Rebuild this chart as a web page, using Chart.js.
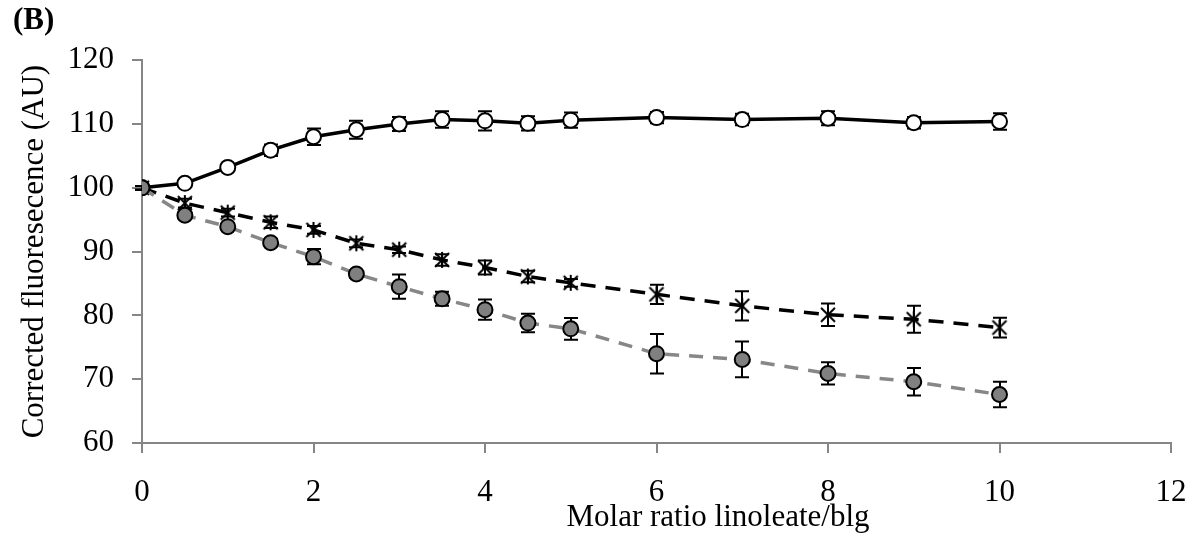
<!DOCTYPE html>
<html>
<head>
<meta charset="utf-8">
<script src="https://cdn.jsdelivr.net/npm/chart.js@4.4.1/dist/chart.umd.min.js"></script>
<style>
html,body{margin:0;padding:0;background:#fff;}
#wrap{width:1197px;height:541px;position:relative;}
</style>
</head>
<body>
<div id="wrap"><canvas id="c" width="1197" height="541"></canvas></div>
<script>
const ratios = [0,0.5,1,1.5,2,2.5,3,3.5,4,4.5,5,6,7,8,9,10];
const openVals = [100,100.7,103.2,105.9,108.0,109.1,110.0,110.7,110.5,110.1,110.6,111.0,110.7,110.9,110.2,110.4];
const openErr  = [0.3,0.4,0.5,0.9,1.3,1.4,1.1,1.3,1.5,1.1,1.2,0.9,0.9,1.1,0.9,1.3];
const starVals = [100,97.6,96.1,94.6,93.4,91.3,90.3,88.7,87.5,86.1,85.1,83.3,81.5,80.1,79.4,78.1];
const starErr  = [0.3,0.7,0.6,0.9,0.6,0.6,0.5,0.9,1.1,0.9,0.6,1.5,2.3,1.75,2.1,1.55];
const grayVals = [100,95.7,93.9,91.4,89.2,86.5,84.5,82.6,80.9,78.8,77.9,74.0,73.1,70.9,69.6,67.6];
const grayErr  = [0.3,0.5,0.5,0.6,1.2,0.6,1.9,1.1,1.6,1.45,1.7,3.1,2.8,1.75,2.15,2.0];
const xTicks = [0,2,4,6,8,10,12];
const yTicks = [60,70,80,90,100,110,120];
const xTitle = 'Molar ratio linoleate/blg';

const FONT = "'Liberation Serif','Times New Roman',serif";

function pts(vals){ return ratios.map((r,i)=>({x:r,y:vals[i]})); }

// custom asterisk marker (X + vertical bar)
const star = document.createElement('canvas');
star.width = 18; star.height = 18;
(function(){
  const g = star.getContext('2d');
  g.strokeStyle = '#000'; g.lineWidth = 2; g.lineCap='butt';
  g.beginPath();
  g.moveTo(2,2); g.lineTo(16,16);
  g.moveTo(16,2); g.lineTo(2,16);
  g.moveTo(9,1); g.lineTo(9,17);
  g.stroke();
})();

const errorBars = {
  id:'errorBars',
  beforeDatasetsDraw(chart){
    const ctx = chart.ctx, xs = chart.scales.x, ys = chart.scales.y;
    ctx.save();
    ctx.strokeStyle = '#000'; ctx.lineWidth = 2;
    chart.data.datasets.forEach(ds=>{
      ds.data.forEach((p,i)=>{
        const e = ds.errors[i];
        const px = Math.round(xs.getPixelForValue(p.x));
        const y1 = ys.getPixelForValue(p.y + e), y2 = ys.getPixelForValue(p.y - e);
        ctx.beginPath();
        ctx.moveTo(px, y1); ctx.lineTo(px, y2);
        ctx.moveTo(px-7, y1); ctx.lineTo(px+7, y1);
        ctx.moveTo(px-7, y2); ctx.lineTo(px+7, y2);
        ctx.stroke();
      });
    });
    ctx.restore();
  }
};

// x-axis title placed off-centre as in the reference
const xTitlePlugin = {
  id:'xTitlePlugin',
  afterDraw(chart){
    const ctx = chart.ctx;
    ctx.save();
    ctx.fillStyle = '#000';
    ctx.font = "31px " + FONT;
    ctx.textAlign = 'center';
    ctx.textBaseline = 'middle';
    ctx.fillText(xTitle, 718, 518);
    ctx.restore();
  }
};

new Chart(document.getElementById('c'), {
  type:'line',
  data:{
    datasets:[
      {label:'gray', data:pts(grayVals), errors:grayErr, borderColor:'#878787', borderWidth:3.5, borderDash:[14,10],
       pointStyle:'circle', pointRadius:7.5, pointBackgroundColor:'#808080', pointBorderColor:'#000', pointBorderWidth:2, tension:0},
      {label:'star', data:pts(starVals), errors:starErr, borderColor:'#000', borderWidth:3.5, borderDash:[15,10],
       pointStyle:star, pointRadius:8, pointBackgroundColor:'#000', pointBorderColor:'#000', tension:0},
      {label:'open', data:pts(openVals), errors:openErr, borderColor:'#000', borderWidth:3.5,
       pointStyle:'circle', pointRadius:7.5, pointBackgroundColor:'#fff', pointBorderColor:'#000', pointBorderWidth:2, tension:0}
    ]
  },
  options:{
    responsive:false, animation:false, devicePixelRatio:1,
    layout:{padding:{left:13,right:26,top:0,bottom:0}},
    plugins:{
      legend:{display:false}, tooltip:{enabled:false},
      title:{display:true, text:'(B)', align:'start', color:'#000',
        font:{family:FONT, size:31, weight:'bold'}, padding:{top:2,bottom:21}}
    },
    scales:{
      x:{type:'linear', min:0, max:12,
        afterBuildTicks(s){ s.ticks = xTicks.map(v=>({value:v})); },
        afterFit(s){ s.height = 98; s.paddingLeft = 0; s.paddingRight = 0; },
        ticks:{color:'#000', font:{family:FONT,size:31}, padding:21, maxRotation:0},
        grid:{drawOnChartArea:false, drawTicks:true, tickLength:10, color:'#868686', lineWidth:2},
        border:{color:'#868686', width:2},
        title:{display:false}
      },
      y:{type:'linear', min:60, max:120,
        afterBuildTicks(s){ s.ticks = yTicks.map(v=>({value:v})); },
        afterFit(s){ s.width = 129; },
        ticks:{color:'#000', font:{family:FONT,size:31}, padding:18},
        grid:{drawOnChartArea:false, drawTicks:true, tickLength:10, color:'#868686', lineWidth:2},
        border:{color:'#868686', width:2},
        title:{display:true, text:'Corrected fluoresecence (AU)', color:'#000', font:{family:FONT,size:31}, padding:{top:3,bottom:4}}
      }
    }
  },
  plugins:[errorBars, xTitlePlugin]
});
</script>
</body>
</html>
